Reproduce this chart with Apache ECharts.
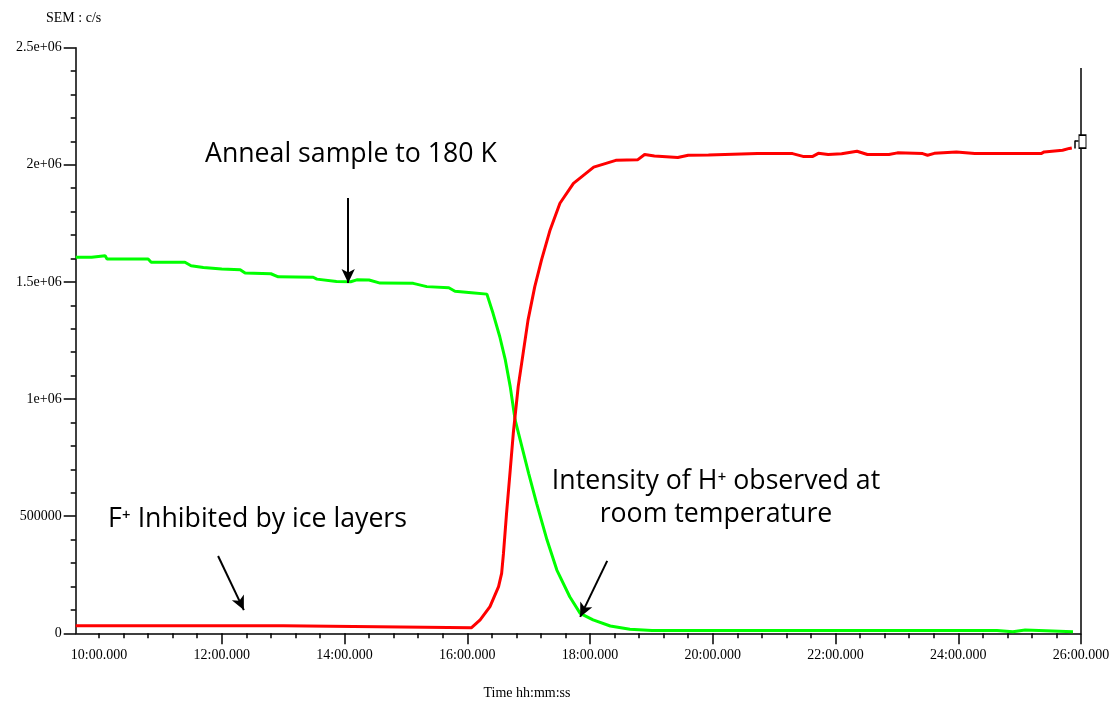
<!DOCTYPE html>
<html>
<head>
<meta charset="utf-8">
<title>SEM c/s anneal</title>
<script src="https://cdn.jsdelivr.net/npm/echarts@6.0.0/dist/echarts.min.js"></script>
<style>
  html, body { margin: 0; padding: 0; background: #fff; }
  #chart { width: 1112px; height: 702px; }
</style>
</head>
<body>
<div id="chart"></div>
<script>
// time in minutes, counts in c/s
const redTime = [9.62, 13.00, 13.01, 16.07, 16.10, 16.21, 16.37, 16.51, 16.56, 16.59, 16.64, 16.70, 16.75,
  16.83, 16.91, 16.99, 17.10, 17.21, 17.35, 17.51, 17.73, 18.06, 18.42, 18.78, 18.89, 19.05, 19.43,
  19.60, 19.93, 20.73, 21.30, 21.47, 21.63, 21.72, 21.88, 22.10, 22.35, 22.52, 22.87, 23.01, 23.42,
  23.50, 23.61, 23.97, 24.27, 25.35, 25.40, 25.70, 25.81, 25.85];
const redCounts = [32000, 32000, 24000, 24000, 24000, 57000, 114000, 199000, 256000, 341000, 512000, 697000, 854000,
  1053000, 1195000, 1337000, 1480000, 1594000, 1722000, 1836000, 1921000, 1990000, 2019000, 2022000, 2044000, 2038000, 2031000,
  2041000, 2042000, 2048000, 2048000, 2036000, 2036000, 2049000, 2044000, 2047000, 2058000, 2044000, 2044000, 2051000, 2048000,
  2041000, 2049000, 2055000, 2048000, 2048000, 2055000, 2062000, 2070000, 2072000];

const greenTime = [9.62, 9.88, 9.90, 10.10, 10.13, 10.80, 10.85, 11.40, 11.50, 11.70, 12.00, 12.30, 12.38, 12.80,
  12.92, 13.49, 13.55, 13.87, 14.10, 14.20, 14.40, 14.58, 15.12, 15.34, 15.70, 15.80, 16.07, 16.32,
  16.42, 16.53, 16.62, 16.70, 16.78, 16.89, 17.00, 17.13, 17.30, 17.46, 17.67, 17.84, 18.05, 18.33,
  18.65, 19.01, 24.63, 24.65, 24.89, 24.91, 25.09, 25.11, 25.87];
const greenCounts = [1605000, 1605000, 1612000, 1612000, 1598000, 1598000, 1584000, 1584000, 1569000, 1562000, 1555000, 1552000, 1538000, 1535000,
  1522000, 1520000, 1512000, 1502000, 1501000, 1509000, 1508000, 1495000, 1494000, 1480000, 1475000, 1460000, 1454000, 1448000,
  1366000, 1266000, 1167000, 1053000, 911000, 797000, 683000, 555000, 398000, 270000, 156000, 85000, 57000, 31000,
  17000, 12000, 12000, 7000, 7000, 14000, 14000, 7000, 7000];

const xMajor = [10, 12, 14, 16, 18, 20, 22, 24, 26];
const xLabels = ['10:00.000', '12:00.000', '14:00.000', '16:00.000', '18:00.000',
  '20:00.000', '22:00.000', '24:00.000', '26:00.000'];
const yMajor = [0, 500000, 1000000, 1500000, 2000000, 2500000];
const yLabels = ['0', '500000', '1e+06', '1.5e+06', '2e+06', '2.5e+06'];

// minor ticks every 24 s on the time axis
const xMinor = [];
for (let i = 0; i <= 40; i++) {
  const v = Math.round((10 + i * 0.4) * 10) / 10;
  if (v === 10 || xMajor.indexOf(v) < 0) xMinor.push(v);
}

const zip = (a, b) => a.map((v, i) => [v, b[i]]);

const serifFont = '"Liberation Serif", "DejaVu Serif", serif';
const sansFont = '"Open Sans", "Noto Sans", "DejaVu Sans", sans-serif';

const arrowStyle = { color: '#000', width: 2, type: 'solid' };
const frameStyle = { color: '#000', width: 1.5, type: 'solid' };

const chart = echarts.init(document.getElementById('chart'));
chart.setOption({
  animation: false,
  backgroundColor: '#fff',
  grid: { left: 75.7, right: 31, top: 47.7, bottom: 68.7, containLabel: false, outerBoundsMode: 'none' },
  xAxis: [{
    type: 'value',
    min: 9.62,
    max: 26,
    position: 'bottom',
    axisLine: { show: true, onZero: false, lineStyle: { color: '#000', width: 1.5 } },
    axisTick: { show: true, length: 11, customValues: xMajor.slice(1), lineStyle: { color: '#000', width: 1.5 } },
    axisLabel: {
      show: true,
      customValues: xMajor,
      margin: 15,
      color: '#000',
      fontFamily: serifFont,
      fontSize: 14,
      formatter: (v) => xLabels[xMajor.indexOf(Math.round(v))] || ''
    },
    splitLine: { show: false }
  }, {
    type: 'value',
    min: 9.62,
    max: 26,
    position: 'bottom',
    offset: 0,
    axisLine: { show: false },
    axisTick: { show: true, length: 5, customValues: xMinor, lineStyle: { color: '#000', width: 1.5 } },
    axisLabel: { show: false },
    splitLine: { show: false }
  }],
  yAxis: {
    type: 'value',
    min: 0,
    max: 2500000,
    interval: 500000,
    axisLine: { show: true, lineStyle: { color: '#000', width: 1.5 } },
    axisTick: { show: true, length: 12, lineStyle: { color: '#000', width: 1.5 } },
    minorTick: { show: true, splitNumber: 5, length: 5, lineStyle: { color: '#000', width: 1.5 } },
    axisLabel: {
      color: '#000',
      margin: 14,
      fontFamily: serifFont,
      fontSize: 14,
      formatter: (v) => yLabels[yMajor.indexOf(v)]
    },
    splitLine: { show: false }
  },
  series: [{
    name: 'green',
    type: 'line',
    data: zip(greenTime, greenCounts),
    showSymbol: false,
    lineStyle: { color: '#00ff00', width: 3 },
    itemStyle: { color: '#00ff00' },
    z: 2,
    markLine: {
      silent: true,
      symbol: ['none', 'arrow'],
      symbolSize: [10, 14],
      label: { show: false },
      lineStyle: arrowStyle,
      data: [
        [{ coord: [14.06, 1858000] }, { coord: [14.06, 1495000] }],
        [{ coord: [11.94, 330000] }, { coord: [12.36, 99000] }],
        [{ coord: [18.28, 309000] }, { coord: [17.84, 70000] }]
      ]
    }
  }, {
    name: 'red',
    type: 'line',
    data: zip(redTime, redCounts),
    showSymbol: false,
    lineStyle: { color: '#ff0000', width: 3 },
    itemStyle: { color: '#ff0000' },
    z: 3,
    markLine: {
      silent: true,
      symbol: ['none', 'none'],
      label: { show: false },
      lineStyle: frameStyle,
      data: [
        [{ coord: [26, 0] }, { coord: [26, 2413000] }],
        [{ coord: [25.903, 2070000] }, { coord: [25.903, 2104000] }],
        [{ coord: [25.903, 2104000] }, { coord: [25.96, 2104000] }]
      ]
    },
    markPoint: {
      silent: true,
      symbol: 'rect',
      symbolSize: [7, 13],
      symbolOffset: [1.5, 0],
      label: { show: false },
      itemStyle: { color: '#fff', borderColor: '#000', borderWidth: 1.3 },
      data: [{ coord: [26, 2099000] }]
    }
  }],
  graphic: [
    { type: 'text', x: 46, y: 18, style: { text: 'SEM : c/s', font: '14px ' + serifFont, fill: '#000', textVerticalAlign: 'middle' } },
    { type: 'text', x: 527, y: 693, style: { text: 'Time hh:mm:ss', font: '14px ' + serifFont, fill: '#000', textAlign: 'center', textVerticalAlign: 'middle' } },
    { type: 'text', x: 205, y: 154, style: { text: 'Anneal sample to 180 K', font: '26.7px ' + sansFont, fill: '#000', textVerticalAlign: 'middle' } },
    { type: 'text', x: 108, y: 519, style: { text: 'F\u207A Inhibited by ice layers', font: '26.7px ' + sansFont, fill: '#000', textVerticalAlign: 'middle' } },
    { type: 'text', x: 716, y: 481, style: { text: 'Intensity of H\u207A observed at', font: '26.7px ' + sansFont, fill: '#000', textAlign: 'center', textVerticalAlign: 'middle' } },
    { type: 'text', x: 716, y: 514, style: { text: 'room temperature', font: '26.7px ' + sansFont, fill: '#000', textAlign: 'center', textVerticalAlign: 'middle' } }
  ]
});
</script>
</body>
</html>
